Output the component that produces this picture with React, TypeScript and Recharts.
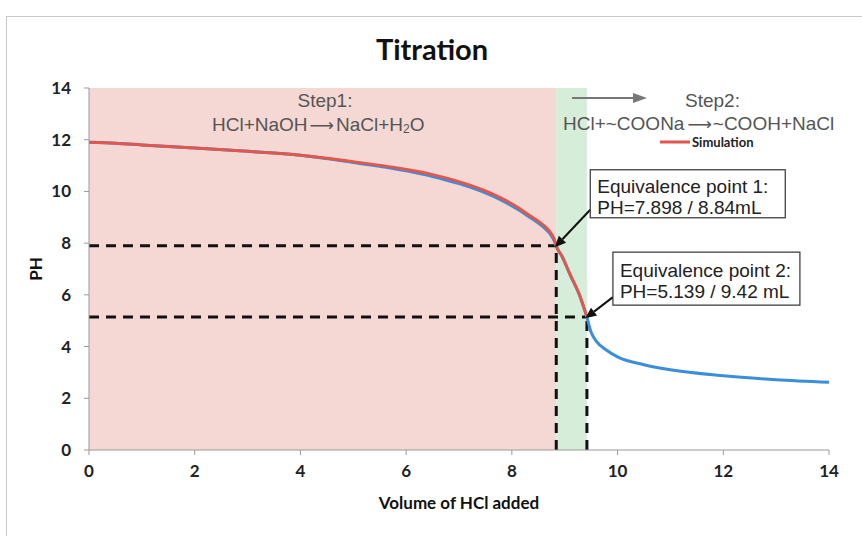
import React from 'react'
import {
  ComposedChart,
  Line,
  XAxis,
  YAxis,
  ReferenceArea,
  ReferenceLine,
  ReferenceDot,
} from 'recharts'

// measured curve (blue) runs the whole range, simulation (red) stops at eq. point 2
const measuredVolume = [0, 0.5, 1, 2, 3, 4, 5, 6, 6.5, 7, 7.5, 7.8, 8.1, 8.3, 8.5, 8.65, 8.75, 8.82, 8.84, 8.95, 9.1, 9.29, 9.42, 9.5, 9.6, 9.8, 10, 10.5, 11, 12, 13, 14]
const measuredPH = [11.9, 11.86, 11.8, 11.68, 11.55, 11.4, 11.12, 10.8, 10.58, 10.3, 9.94, 9.66, 9.32, 9.05, 8.78, 8.52, 8.28, 8.0, 7.88, 7.48, 6.78, 5.93, 5.139, 4.55, 4.2, 3.85, 3.6, 3.3, 3.1, 2.87, 2.72, 2.62]

const simVolume = [0, 0.5, 1, 2, 3, 4, 5, 6, 6.5, 7, 7.5, 7.8, 8.1, 8.3, 8.5, 8.65, 8.75, 8.82, 8.84, 8.95, 9.1, 9.29, 9.42]
const simPH = [11.9, 11.86, 11.8, 11.68, 11.55, 11.4, 11.15, 10.85, 10.65, 10.38, 10.02, 9.74, 9.4, 9.12, 8.85, 8.6, 8.35, 8.05, 7.898, 7.5, 6.8, 5.95, 5.139]

const xTicks = [0, 2, 4, 6, 8, 10, 12, 14]
const yTicks = [0, 2, 4, 6, 8, 10, 12, 14]

const eq1 = { volume: 8.84, ph: 7.898, line1: 'Equivalence point 1:', line2: 'PH=7.898 / 8.84mL' }
const eq2 = { volume: 9.42, ph: 5.139, line1: 'Equivalence point 2:', line2: 'PH=5.139 / 9.42 mL' }

const measuredData = measuredVolume.map((v, i) => ({ volume: v, ph: measuredPH[i] }))
const simData = simVolume.map((v, i) => ({ volume: v, ph: simPH[i] }))

const stepFont = { fontFamily: 'Liberation Sans', fontSize: 19, fill: '#555' }
const boxFont = { fontFamily: 'Liberation Sans', fontSize: 19, fill: '#222' }

function XTick(props: any) {
  const { x, y, payload } = props
  return (
    <text x={x} y={y + 16} textAnchor="middle" style={{ fontFamily: 'Lato', fontWeight: 700, fontSize: 17, fill: '#222' }}>
      {payload.value}
    </text>
  )
}

function YTick(props: any) {
  const { x, y, payload } = props
  return (
    <text x={x - 2} y={y + 6} textAnchor="end" style={{ fontFamily: 'Lato', fontWeight: 700, fontSize: 17, fill: '#222' }}>
      {payload.value}
    </text>
  )
}

function Callout(props: any, dx: number, dy: number, w: number, h: number, t1: number, l1: string, l2: string) {
  const { cx, cy } = props
  const bx = cx + dx
  const by = cy + dy
  // arrow from lower-left corner of the box to the point
  const sx = bx
  const sy = by + h - 8
  const ang = Math.atan2(cy - sy, cx - sx)
  const tipX = cx + 2 * Math.cos(ang)
  const tipY = cy + 2 * Math.sin(ang)
  const hl = 11
  const hw = 5
  const baseX = tipX - hl * Math.cos(ang)
  const baseY = tipY - hl * Math.sin(ang)
  const px = -Math.sin(ang) * hw
  const py = Math.cos(ang) * hw
  return (
    <g>
      <line x1={sx} y1={sy} x2={baseX} y2={baseY} stroke="#111" strokeWidth={2} />
      <polygon points={`${tipX},${tipY} ${baseX + px},${baseY + py} ${baseX - px},${baseY - py}`} fill="#111" />
      <rect x={bx} y={by} width={w} height={h} fill="#fff" stroke="#333" strokeWidth={1.2} />
      <text x={bx + 7} y={by + t1} style={boxFont}>{l1}</text>
      <text x={bx + 7} y={by + t1 + 21} style={boxFont}>{l2}</text>
    </g>
  )
}

function Decorations() {
  return (
    <svg width={862} height={536} style={{ position: 'absolute', left: 0, top: 0, pointerEvents: 'none' }}>
      <text x={432} y={60} textAnchor="middle" style={{ fontFamily: 'Lato', fontWeight: 700, fontSize: 29, fill: '#111' }}>
        Titration
      </text>
      <text x={325} y={107} textAnchor="middle" style={stepFont}>Step1:</text>
      <text x={212} y={131} style={stepFont}>
        HCl+NaOH
        <tspan fontFamily="DejaVu Sans" fontSize={17} dx={2}>⟶</tspan>
        <tspan dx={2}>NaCl+H</tspan>
        <tspan fontSize={12} dy={2}>2</tspan>
        <tspan dy={-2}>O</tspan>
      </text>
      <line x1={572} y1={98} x2={635} y2={98} stroke="#777" strokeWidth={2} />
      <polygon points="647,98 633,93 633,103" fill="#777" />
      <text x={685} y={107} style={stepFont}>Step2:</text>
      <text x={563} y={130} style={stepFont}>
        HCl+~COONa
        <tspan fontFamily="DejaVu Sans" fontSize={17} dx={3}>⟶</tspan>
        <tspan dx={1}>~COOH+NaCl</tspan>
      </text>
      <line x1={660} y1={142} x2={690} y2={142} stroke="#e0574f" strokeWidth={3} />
      <text x={692} y={147} style={{ fontFamily: 'Lato', fontWeight: 700, fontSize: 13, fill: '#222' }}>Simulation</text>
      <text
        x={42}
        y={269}
        textAnchor="middle"
        transform="rotate(-90 42 269)"
        style={{ fontFamily: 'Lato', fontWeight: 700, fontSize: 17, fill: '#111' }}
      >
        PH
      </text>
      <text x={459} y={509} textAnchor="middle" style={{ fontFamily: 'Lato', fontWeight: 700, fontSize: 17, fill: '#111' }}>
        Volume of HCl added
      </text>
    </svg>
  )
}

export default function App() {
  return (
    <div style={{ position: 'absolute', left: 0, top: 0, width: 862, height: 536, overflow: 'hidden', background: '#fff' }}>
      <div
        style={{
          position: 'absolute',
          left: 6,
          top: 16,
          width: 900,
          height: 600,
          borderLeft: '1px solid #c8c8c8',
          borderTop: '1px solid #c8c8c8',
        }}
      />
      <div style={{ position: 'absolute', left: 0, top: 0 }}>
        <ComposedChart width={862} height={536} margin={{ top: 88, right: 33, left: 0, bottom: 0 }}>
          <XAxis
            dataKey="volume"
            type="number"
            domain={[0, 14]}
            ticks={xTicks}
            height={86}
            allowDuplicatedCategory={false}
            stroke="#9a9a9a"
            tickSize={5}
            tickMargin={6}
            tick={<XTick />}
          />
          <YAxis
            type="number"
            domain={[0, 14]}
            ticks={yTicks}
            width={89}
            stroke="#9a9a9a"
            tickSize={5}
            tickMargin={11}
            tick={<YTick />}
          />
          <ReferenceArea x1={0} x2={eq1.volume} y1={0} y2={14} fill="#f5d8d3" fillOpacity={1} stroke="none" />
          <ReferenceArea x1={eq1.volume} x2={eq2.volume} y1={0} y2={14} fill="#d6edd9" fillOpacity={1} stroke="none" />
          <ReferenceLine segment={[{ x: 0, y: eq1.ph }, { x: eq1.volume, y: eq1.ph }]} stroke="#111" strokeWidth={3} strokeDasharray="10 7" />
          <ReferenceLine segment={[{ x: eq1.volume, y: 0 }, { x: eq1.volume, y: eq1.ph }]} stroke="#111" strokeWidth={3} strokeDasharray="10 7" />
          <ReferenceLine segment={[{ x: 0, y: eq2.ph }, { x: eq2.volume, y: eq2.ph }]} stroke="#111" strokeWidth={3} strokeDasharray="10 7" />
          <ReferenceLine segment={[{ x: eq2.volume, y: 0 }, { x: eq2.volume, y: eq2.ph }]} stroke="#111" strokeWidth={3} strokeDasharray="10 7" />
          <Line
            data={measuredData}
            dataKey="ph"
            type="monotone"
            stroke="#3a8fd8"
            strokeWidth={3}
            dot={false}
            isAnimationActive={false}
          />
          <Line
            data={simData}
            dataKey="ph"
            type="monotone"
            stroke="#e0574f"
            strokeWidth={3}
            dot={false}
            isAnimationActive={false}
          />
          <ReferenceDot
            x={eq1.volume}
            y={eq1.ph}
            r={0}
            ifOverflow="visible"
            shape={(p: any) => Callout(p, 34, -76, 195, 48, 23, eq1.line1, eq1.line2)}
          />
          <ReferenceDot
            x={eq2.volume}
            y={eq2.ph}
            r={0}
            ifOverflow="visible"
            shape={(p: any) => Callout(p, 26, -65, 187, 53, 25, eq2.line1, eq2.line2)}
          />
        </ComposedChart>
      </div>
      <Decorations />
    </div>
  )
}
